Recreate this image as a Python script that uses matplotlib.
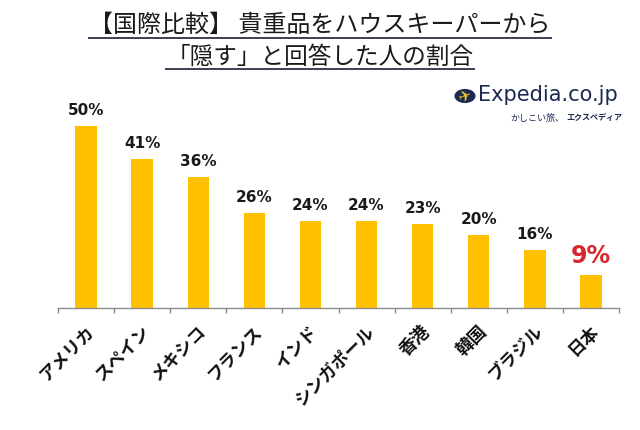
import matplotlib
matplotlib.use("Agg")
import matplotlib.pyplot as plt
from matplotlib.transforms import ScaledTranslation
from matplotlib.patches import Circle
from matplotlib.lines import Line2D

categories = ["アメリカ", "スペイン", "メキシコ", "フランス", "インド",
              "シンガポール", "香港", "韓国", "ブラジル", "日本"]
values = [50, 41, 36, 26, 24, 24, 23, 20, 16, 9]
value_labels = ["50%", "41%", "36%", "26%", "24%", "24%", "23%", "20%", "16%", "9%"]
title_lines = ["【国際比較】 貴重品をハウスキーパーから", "「隠す」と回答した人の割合"]

W, H = 640, 431
fig = plt.figure(figsize=(6.4, 4.31), dpi=100)
fig.patch.set_facecolor("white")

ax_left, ax_right, ax_bottom, ax_top = 58, 619, 309, 100
ax = fig.add_axes([ax_left / W, (H - ax_bottom) / H,
                   (ax_right - ax_left) / W, (ax_bottom - ax_top) / H])
ymax = (ax_bottom - ax_top) / 3.64

x = list(range(len(categories)))
ax.bar(x, values, width=0.38, color="#FFC000", edgecolor="none", zorder=2)
ax.set_xlim(-0.5, len(categories) - 0.5)
ax.set_ylim(0, ymax)

for s in ["top", "right", "left"]:
    ax.spines[s].set_visible(False)
ax.spines["bottom"].set_color("#8c8c8c")
ax.spines["bottom"].set_linewidth(1.0)
ax.set_yticks([])

ax.set_xticks(x)
ax.set_xticklabels(categories, rotation=45, ha="right", va="center",
                   rotation_mode="anchor", fontsize=12.5,
                   family=["Noto Sans CJK JP", "DejaVu Sans"], fontweight="bold",
                   color="#111111")
ax.tick_params(axis="x", which="major", length=0, pad=14)
ax.set_xticks([i - 0.5 for i in range(len(categories) + 1)], minor=True)
ax.tick_params(axis="x", which="minor", length=3.5, width=1.0, color="#8c8c8c",
               direction="out")
off = ScaledTranslation(5 / 100, 0, fig.dpi_scale_trans)
for lab in ax.get_xticklabels():
    lab.set_transform(lab.get_transform() + off)

for i, (v, t) in enumerate(zip(values, value_labels)):
    if i == len(values) - 1:
        ax.annotate(t, (i, v), xytext=(0, 8), textcoords="offset pixels",
                    ha="center", va="bottom", fontsize=17, fontweight="bold",
                    color="#D8262E", family="DejaVu Sans")
    else:
        ax.annotate(t, (i, v), xytext=(0, 9), textcoords="offset pixels",
                    ha="center", va="bottom", fontsize=11, fontweight="bold",
                    color="#1a1a1a", family="DejaVu Sans")

# Title with underline
t1 = fig.text(0.5, 1 - 25 / H, title_lines[0], ha="center", va="center",
              fontsize=17.3, family=["Noto Sans CJK JP", "DejaVu Sans"], color="#1a1a1a")
t2 = fig.text(0.5, 1 - 57 / H, title_lines[1], ha="center", va="center",
              fontsize=17.0, family=["Noto Sans CJK JP", "DejaVu Sans"], color="#1a1a1a")
fig.canvas.draw()
r = fig.canvas.get_renderer()
for t, uy in [(t1, 39), (t2, 70)]:
    bb = t.get_window_extent(r)
    fig.add_artist(Line2D([bb.x0 / W, bb.x1 / W], [1 - uy / H, 1 - uy / H],
                          transform=fig.transFigure, color="#3a3f55", linewidth=1.4))

# Logo
circ = Circle((465 / W, 1 - 97 / H), 10.5 / W, transform=fig.transFigure,
              facecolor="#1c2a50", edgecolor="none")
fig.add_artist(circ)
fig.text(465 / W, 1 - 97 / H, "✈", ha="center", va="center", fontsize=11,
         color="#F5C32C", family="DejaVu Sans", rotation=20)
fig.text(478 / W, 1 - 95 / H, "Expedia.co.jp", ha="left", va="center",
         fontsize=15, family="DejaVu Sans", color="#1c2a50")
fig.text(622 / W, 1 - 118 / H, "エクスペディア", ha="right", va="center",
         fontsize=5.8, family="Noto Sans CJK JP", fontweight="bold", color="#1c2a50")
fig.text(564 / W, 1 - 118.5 / H, "かしこい旅、", ha="right", va="center",
         fontsize=6.5, family="Noto Sans CJK JP", color="#1c2a50")

fig.savefig("out.png", dpi=100, facecolor="white")
